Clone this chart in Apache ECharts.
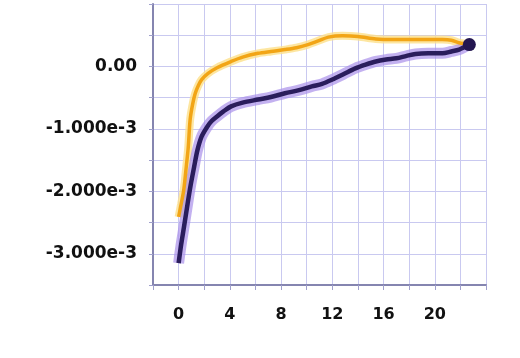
<!DOCTYPE html>
<html>
<head>
<meta charset="utf-8">
<script src="https://cdn.jsdelivr.net/npm/echarts@6/dist/echarts.min.js"></script>
<style>
  html, body { margin: 0; padding: 0; background: #fff; }
  #main { width: 520px; height: 358px; }
</style>
</head>
<body>
<div id="main"></div>
<script>
// values are in units of 1e-3
const darkX = [0, 0.2, 0.42, 0.7, 0.94, 1.2, 1.47, 1.8, 2.25, 2.6, 3.0, 3.5, 4.1, 5, 6.2, 7.2, 8.3, 9.4, 10.4, 11.2, 12, 12.9, 13.8, 14.6, 15.4, 16.2, 17, 17.8, 18.5, 19.5, 20.6, 21.3, 21.9, 22.7];
const darkY = [-3.15, -2.85, -2.57, -2.2, -1.9, -1.62, -1.34, -1.12, -0.96, -0.87, -0.8, -0.72, -0.64, -0.58, -0.53, -0.49, -0.43, -0.38, -0.32, -0.28, -0.21, -0.12, -0.03, 0.03, 0.08, 0.11, 0.13, 0.17, 0.2, 0.21, 0.21, 0.24, 0.27, 0.35];

const yellowX = [0, 0.2, 0.4, 0.6, 0.75, 0.9, 1.1, 1.3, 1.55, 1.8, 2.3, 3.0, 4.1, 5, 6.2, 7.2, 8.3, 9.2, 10.1, 10.9, 11.7, 12.8, 14, 15.4, 16.7, 18, 19.3, 20.6, 21.3, 21.9, 22.7];
const yellowY = [-2.41, -2.2, -1.98, -1.6, -1.3, -0.85, -0.6, -0.43, -0.3, -0.21, -0.11, -0.02, 0.08, 0.15, 0.21, 0.24, 0.27, 0.3, 0.35, 0.41, 0.47, 0.49, 0.48, 0.44, 0.43, 0.43, 0.43, 0.43, 0.42, 0.38, 0.35];

const xTickLabels = [0, 4, 8, 12, 16, 20];
const yTickLabels = [0, -1, -2, -3];

const pairs = (xs, ys) => xs.map((x, i) => [x, ys[i]]);
const darkData = pairs(darkX, darkY);
const yellowData = pairs(yellowX, yellowY);

const chart = echarts.init(document.getElementById("main"));

const option = {
  backgroundColor: "#ffffff",
  animation: false,
  grid: { left: 153, right: 34, top: 4, bottom: 73 },
  xAxis: {
    type: "value",
    min: -2,
    max: 24,
    interval: 2,
    axisLine: { show: true, onZero: false, lineStyle: { color: "#8585b0", width: 2 } },
    axisTick: { show: true, length: 5, lineStyle: { color: "#a0a0cc" } },
    splitLine: { show: true, lineStyle: { color: "#c9c9f0", width: 1 } },
    axisLabel: {
      margin: 22,
      color: "#111",
      fontFamily: "DejaVu Sans",
      fontWeight: "bold",
      fontSize: 16,
      formatter: (v) => (xTickLabels.includes(Math.round(v)) && Math.abs(v - Math.round(v)) < 1e-6 ? String(Math.round(v)) : ""),
    },
  },
  yAxis: {
    type: "value",
    min: -3.5,
    max: 1,
    interval: 0.5,
    axisLine: { show: true, onZero: false, lineStyle: { color: "#8585b0", width: 2 } },
    axisTick: { show: true, length: 4, lineStyle: { color: "#a0a0cc" } },
    splitLine: { show: true, lineStyle: { color: "#c9c9f0", width: 1 } },
    axisLabel: {
      margin: 16,
      color: "#111",
      fontFamily: "DejaVu Sans",
      fontWeight: "bold",
      fontSize: 17,
      formatter: (v) => {
        const r = Math.round(v);
        if (Math.abs(v - r) > 1e-6 || !yTickLabels.includes(r)) return "";
        return r === 0 ? "0.00" : r.toFixed(3) + "e-3";
      },
    },
  },
  series: [
    {
      name: "yellow band",
      type: "line",
      data: yellowData,
      showSymbol: false,
      smooth: 0.3,
      lineStyle: { color: "#fde08a", width: 8, opacity: 0.8 },
      z: 1,
    },
    {
      name: "purple band",
      type: "line",
      data: darkData,
      showSymbol: false,
      smooth: 0.3,
      lineStyle: { color: "#a990ea", width: 11, opacity: 0.7 },
      z: 2,
    },
    {
      name: "yellow",
      type: "line",
      data: yellowData,
      showSymbol: false,
      smooth: 0.3,
      lineStyle: { color: "#f2a516", width: 3.5 },
      z: 3,
    },
    {
      name: "dark",
      type: "line",
      data: darkData,
      showSymbol: false,
      smooth: 0.3,
      lineStyle: { color: "#2a1d5c", width: 4.5 },
      z: 4,
    },
    {
      name: "end",
      type: "scatter",
      data: [darkData[darkData.length - 1]],
      symbolSize: 13,
      itemStyle: { color: "#231650", opacity: 1 },
      z: 5,
    },
  ],
};

option && chart.setOption(option);
</script>
</body>
</html>
